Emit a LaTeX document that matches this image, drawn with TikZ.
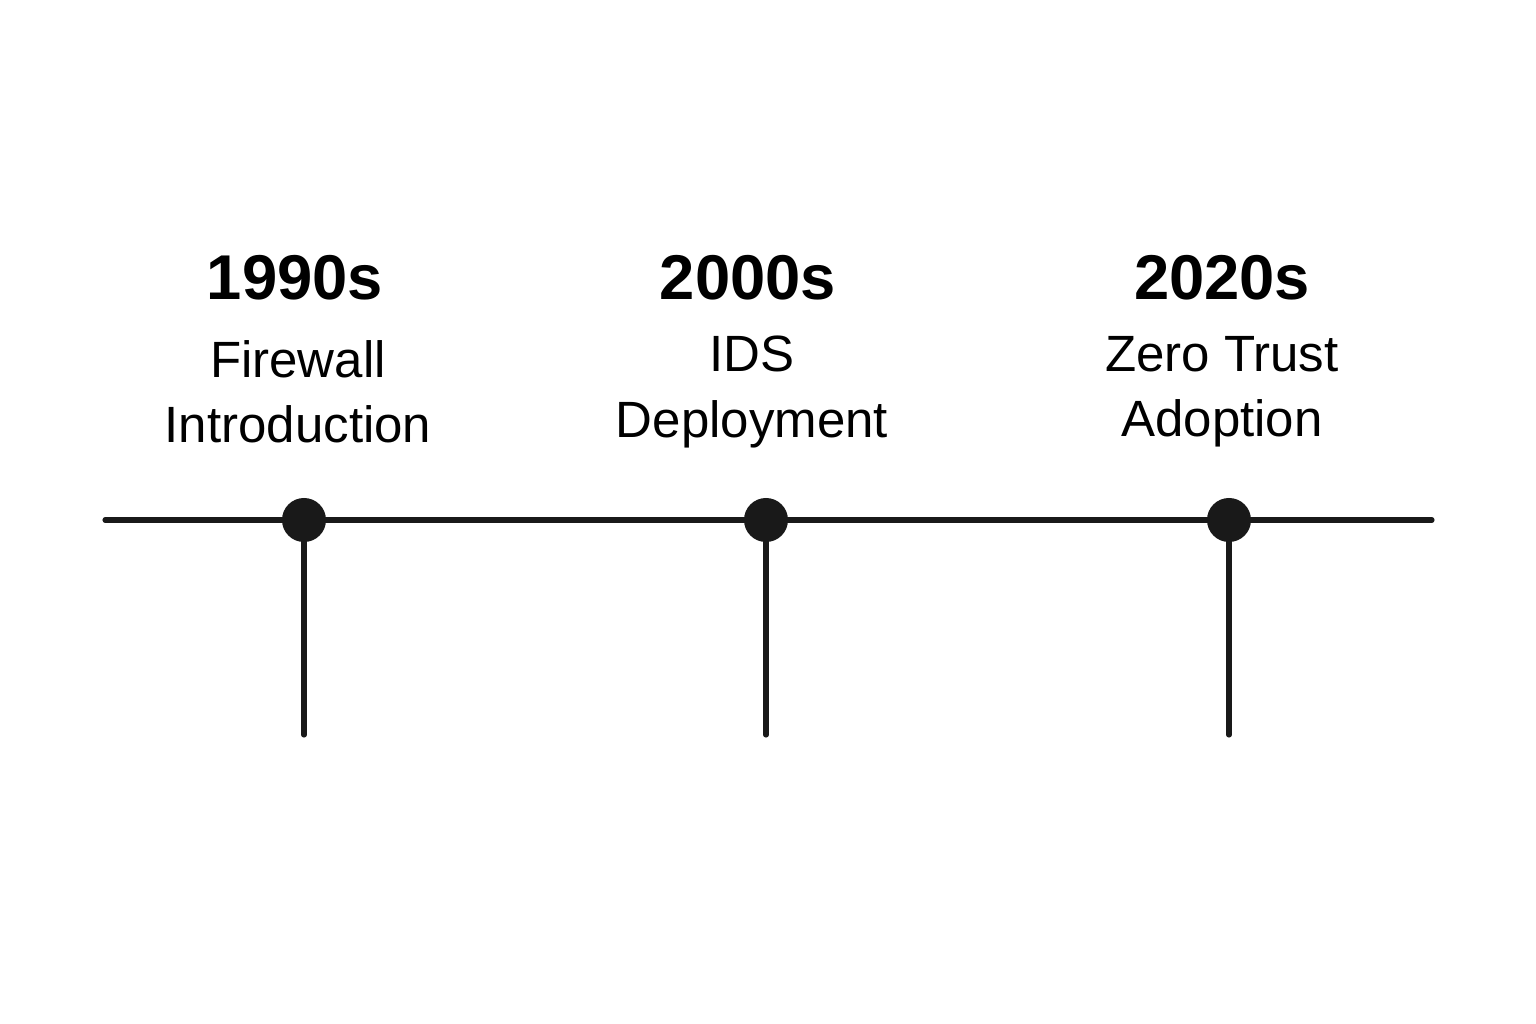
\documentclass[tikz,border=0pt]{standalone}
\usepackage{fontspec}
\setmainfont{Liberation Sans}
\usetikzlibrary{positioning}

\begin{document}
\begin{tikzpicture}[x=0.01cm,y=-0.01cm,
  line width=1.45pt,
  year/.style={font=\fontsize{18}{21}\selectfont\bfseries},
  label/.style={font=\fontsize{14.5}{18.5}\selectfont,align=center},
  dot/.style={circle,fill=black!90,inner sep=0pt,minimum size=0.44cm}]

\useasboundingbox (0,0) rectangle (1536,1024);

\coordinate (start) at (105,520);
\coordinate (stop) at (1432,520);
\draw[black!90,line cap=round] (start) -- (stop);

\node[dot] (d1) at (304,520) {};
\node[dot] (d2) at (766,520) {};
\node[dot] (d3) at (1229,520) {};

\coordinate (e1) at (304,735);
\coordinate (e2) at (766,735);
\coordinate (e3) at (1229,735);
\draw[black!90,line cap=round] (d1.center) -- (e1);
\draw[black!90,line cap=round] (d2.center) -- (e2);
\draw[black!90,line cap=round] (d3.center) -- (e3);

\node[year] (y1) at (295,278) {1990s};
\node[year] (y2) at (748,278) {2000s};
\node[year] (y3) at (1222,278) {2020s};

\node[label] (t1) at (298,392) {Firewall\\Introduction};
\node[label] (t2) at (752,392) {IDS\\Deployment};
\node[label] (t3) at (1222,392) {Zero Trust\\Adoption};

\end{tikzpicture}
\end{document}
